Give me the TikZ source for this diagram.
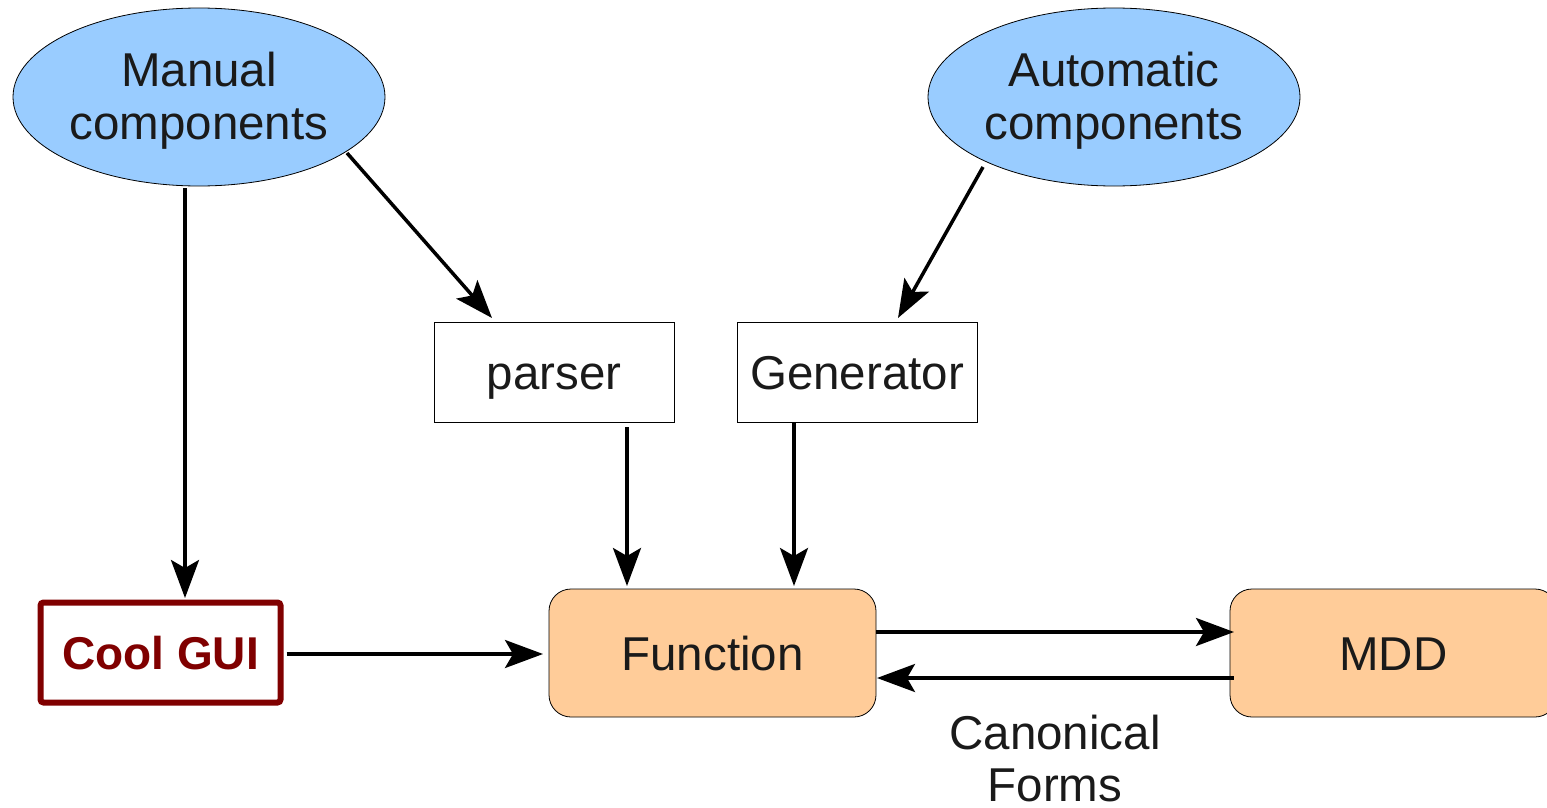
\documentclass[tikz,border=0pt]{standalone}
\usepackage{fontspec}
\setmainfont{Liberation Sans}
\usetikzlibrary{arrows.meta,shapes.geometric}
\definecolor{ellblue}{HTML}{99CCFF}
\definecolor{boxorange}{HTML}{FFCC99}
\definecolor{guired}{HTML}{800000}
\definecolor{txt}{HTML}{1A1A1A}
\begin{document}
\begin{tikzpicture}[x=1pt,y=-1pt,
  every node/.style={font=\fontsize{47.5}{53}\selectfont, text=txt},
  ell/.style={ellipse, draw=black, line width=0.8pt, fill=ellblue, minimum width=372pt, minimum height=178pt, align=center, inner sep=0pt},
  plainbox/.style={rectangle, draw=black, line width=0.8pt, fill=white, minimum width=240pt, minimum height=100pt, inner sep=0pt, text height=38pt, text depth=4pt},
  orbox/.style={rectangle, rounded corners=22pt, draw=black, line width=0.8pt, fill=boxorange, minimum width=327pt, minimum height=128pt, inner sep=0pt, text height=38pt, text depth=4pt},
  guibox/.style={rectangle, rounded corners=3pt, draw=guired, line width=6pt, fill=white, minimum width=240pt, minimum height=100pt, inner sep=0pt, text=guired, text height=38pt, text depth=4pt, font=\fontsize{46}{53}\selectfont\bfseries},
  conn/.style={line width=3.5pt, -{Stealth[length=38pt, width=28pt, inset=8pt]}}
]
\useasboundingbox (0,0) rectangle (1547,808);
\node[ell] (man) at (199,97) {};
\node[align=center] at (man.center) [yshift=-4pt] {Manual\\components};
\node[ell] (aut) at (1114,97) {};
\node[align=center] at (aut.center) [yshift=-4pt] {Automatic\\components};
\node[plainbox] (parser) at (554,372) {parser};
\node[plainbox] (gen) at (857,372) {Generator};
\node[guibox] (gui) at (160.5,652.5) {Cool GUI};
\node[orbox] (fun) at (712.5,653) {Function};
\node[orbox] (mdd) at (1393.5,653) {MDD};
\node[align=center, font=\fontsize{47.5}{52}\selectfont] (canon) at (1055,759) {Canonical\\Forms};
\coordinate (m1) at (185,188);
\coordinate (m2) at (347,153);
\coordinate (a1) at (983,167);
\draw[conn] (m1) -- (185,598);
\draw[conn] (m2) -- (492,318);
\draw[conn] (a1) -- (898,318);
\draw[conn] (parser.south -| 627,0) ++(0,5) -- (627,586);
\draw[conn] (gen.south -| 794,0) -- (794,586);
\draw[conn] (gui.east |- 0,654) ++(3,0) -- (543,654);
\draw[conn] (fun.east |- 0,632) -- (1234,632);
\draw[conn] (mdd.west |- 0,678) ++(4,0) -- (877,678);
\end{tikzpicture}
\end{document}
